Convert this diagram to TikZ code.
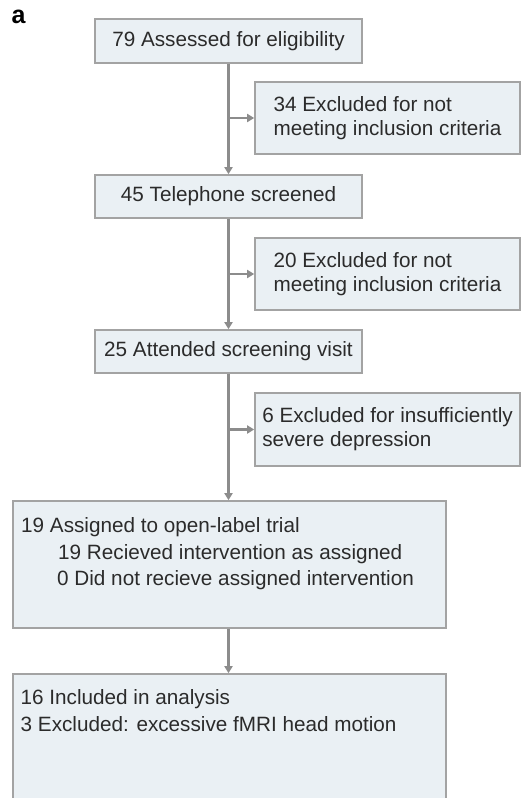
\documentclass[tikz,border=0pt]{standalone}
\usepackage{fontspec}
\setmainfont{Liberation Sans}
\usetikzlibrary{arrows.meta,calc}
\definecolor{boxfill}{HTML}{EAF0F4}
\definecolor{boxline}{HTML}{A3A3A3}
\definecolor{arrowgray}{HTML}{8C8C8C}
\definecolor{txt}{HTML}{2B2B2B}
\begin{document}
\begin{tikzpicture}[x=1pt,y=-1pt,
  flowbox/.style={draw=boxline, fill=boxfill, line width=1.6pt, inner sep=0pt, align=left, text=txt, font=\fontsize{20.7}{24}\selectfont},
  boxtext/.style={inner sep=0pt, align=left, text=txt, font=\fontsize{20.7}{26.8}\selectfont, anchor=north west},
  flowarrow/.style={draw=arrowgray, line width=2.2pt, -{Triangle[width=8pt,length=7pt]}},
  flowline/.style={draw=arrowgray, line width=2.2pt},
]
\useasboundingbox (0,0) rectangle (521,798);

\node[inner sep=0pt, anchor=base west, font=\fontsize{25}{25}\selectfont\bfseries] (lbl) at (11.5,23.5) {a};

\node[flowbox, minimum width=267pt, minimum height=44pt] (b1) at (228.5,41) {79 Assessed for eligibility};
\node[flowbox, minimum width=265pt, minimum height=72pt] (b2) at (387.5,118) {34 Excluded for not\\meeting inclusion criteria};
\node[flowbox, minimum width=267pt, minimum height=43pt] (b3) at (228.5,196.5) {45 Telephone screened};
\node[flowbox, minimum width=265pt, minimum height=72pt] (b4) at (387.5,274) {20 Excluded for not\\meeting inclusion criteria};
\node[flowbox, minimum width=267pt, minimum height=43pt] (b5) at (228.5,351.5) {25 Attended screening visit};
\node[flowbox, minimum width=265pt, minimum height=73pt] (b6) at (387.5,429.5) {6 Excluded for insufficiently\\severe depression};
\node[flowbox, minimum width=433pt, minimum height=127pt] (b7) at (229.5,564.5) {};
\node[flowbox, minimum width=433pt, minimum height=131pt] (b8) at (229.5,739.5) {};

\node[boxtext] (t7) at (21,517) {19 Assigned to open-label trial\\\hspace*{37pt}19 Recieved intervention as assigned\\\hspace*{36pt}0 Did not recieve assigned intervention};
\node[boxtext] (t8) at (20.5,689) {16 Included in analysis\\3 Excluded: excessive fMRI head motion};

\coordinate (j1) at (b1.south |- b2.west);
\coordinate (j2) at (b3.south |- b4.west);
\coordinate (j3) at (b5.south |- b6.west);

\draw[flowarrow] (b1.south) -- (b3.north -| b1.south);
\draw[flowarrow] (j1) -- (b2.west);
\draw[flowarrow] (b3.south) -- (b5.north -| b3.south);
\draw[flowarrow] (j2) -- (b4.west);
\draw[flowarrow] (b5.south) -- (b7.north -| b5.south);
\draw[flowarrow] (j3) -- (b6.west);
\draw[flowarrow] (b7.south -| b5.south) -- (b8.north -| b5.south);
\end{tikzpicture}
\end{document}
